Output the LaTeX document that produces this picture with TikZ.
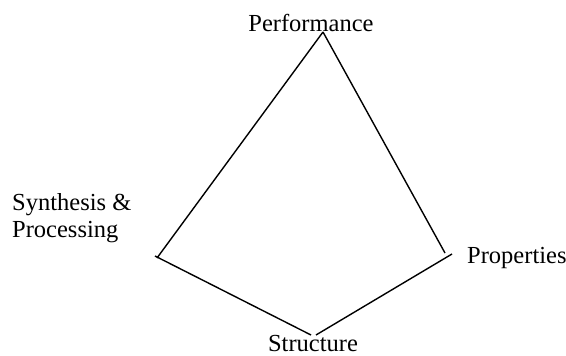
\documentclass[tikz,border=0pt]{standalone}
\usepackage{fontspec}
\setmainfont{Liberation Serif}
\begin{document}
\begin{tikzpicture}[x=1pt,y=-1pt,
  lbl/.style={inner sep=0pt,font=\fontsize{24.5}{27}\selectfont},
  edge/.style={line width=1.4pt,line cap=butt}]
\useasboundingbox (0,0) rectangle (566,356);
% labels (anchored at baseline)
\node[lbl,anchor=base] (perf) at (311,31) {Performance};
\node[lbl,anchor=base west,align=left] (synth) at (12,237) {Synthesis \&\\Processing};
\node[lbl,anchor=base west] (prop) at (467,263) {Properties};
\node[lbl,anchor=base] (struct) at (313,351) {Structure};
% vertices
\coordinate (t) at (323,32);
\coordinate (lu) at (157,258);
\coordinate (ll) at (155,256);
\coordinate (bl) at (311,335);
\coordinate (br) at (316,335);
\coordinate (rl) at (452,254);
\coordinate (ru) at (445,253);
\draw[edge] (t) -- (lu);
\draw[edge] (ll) -- (bl);
\draw[edge] (br) -- (rl);
\draw[edge] (t) -- (ru);
\end{tikzpicture}
\end{document}
